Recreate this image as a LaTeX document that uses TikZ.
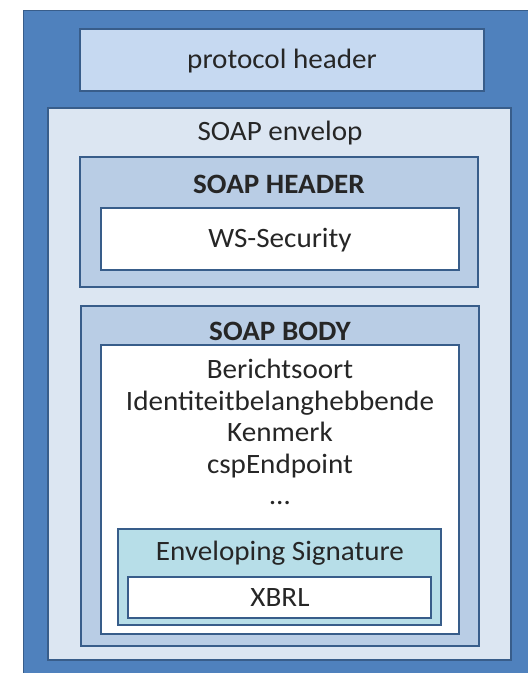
\documentclass[tikz,border=0pt]{standalone}
\usepackage{fontspec}
\setmainfont{Carlito}[FakeStretch=1.04]
\definecolor{outerblue}{HTML}{4F81BD}
\definecolor{edgeblue}{HTML}{385D8A}
\definecolor{protofill}{HTML}{C6D9F1}
\definecolor{envfill}{HTML}{DCE6F2}
\definecolor{soapfill}{HTML}{B9CDE5}
\definecolor{sigfill}{HTML}{B7DEE8}
\begin{document}
\begin{tikzpicture}[x=1pt,y=-1pt,
  frame/.style={draw=edgeblue, line width=1.8pt},
  lbl/.style={font=\fontsize{28}{31.5}\selectfont, text=black!85, inner sep=0pt},
  blbl/.style={lbl, font=\fontsize{28}{31.5}\selectfont\bfseries}]
\useasboundingbox (0,0) rectangle (528,673);
\fill[outerblue] (23,10) rectangle (528,673);
\draw[edgeblue, line width=1pt] (23,10) rectangle (528,673);
% protocol header
\draw[frame, fill=protofill] (80,29) rectangle (484,91);
\node[lbl] (proto) at (282,61) {protocol header};
% envelope
\draw[frame, fill=envfill] (48,108) rectangle (511,660);
\node[lbl] (env) at (280,133) {SOAP envelop};
% SOAP header
\draw[frame, fill=soapfill] (80,157) rectangle (478,287);
\node[blbl] (hdr) at (279,184) {SOAP HEADER};
\draw[frame, fill=white] (101,208) rectangle (459,270);
\node[lbl] (wss) at (280,240) {WS-Security};
% SOAP body
\draw[frame, fill=soapfill] (81,306) rectangle (479,646);
\node[blbl] (body) at (280,331) {SOAP BODY};
\draw[frame, fill=white] (101,345) rectangle (459,634);
\node[lbl, align=center] (fields) at (280,432)
  {Berichtsoort\\Identiteitbelanghebbende\\Kenmerk\\cspEndpoint\\…};
% Enveloping signature
\draw[frame, fill=sigfill] (118,529) rectangle (441,625);
\node[lbl] (sig) at (280,553) {Enveloping Signature};
\draw[frame, fill=white] (128,577) rectangle (431,618);
\node[lbl] (xbrl) at (280,598) {XBRL};
\end{tikzpicture}
\end{document}
